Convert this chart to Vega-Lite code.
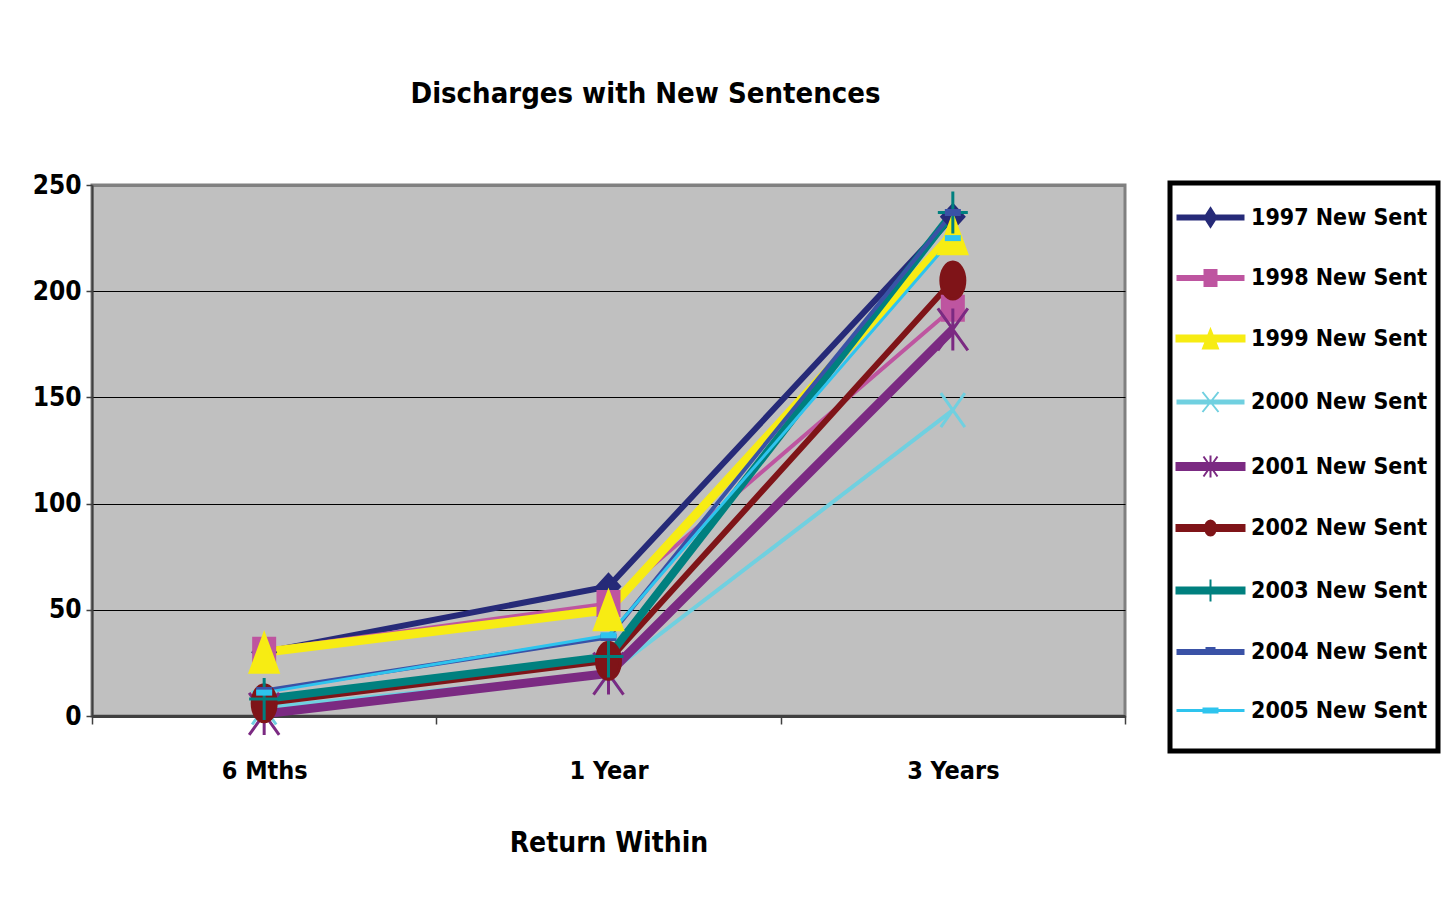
{
  "$schema": "https://vega.github.io/schema/vega-lite/v6.json",
  "width": 1033,
  "height": 531,
  "padding": {"left": 32, "top": 80, "right": 20, "bottom": 30},
  "background": "white",
  "title": {
    "text": "Discharges with New Sentences",
    "font": "DejaVu Sans Condensed",
    "fontSize": 29,
    "fontWeight": "bold",
    "color": "black",
    "anchor": "middle",
    "dx": 37,
    "offset": 63
  },
  "data": {
    "values": [
      {"series": "1997 New Sent", "period": "6 Mths", "value": 30},
      {"series": "1997 New Sent", "period": "1 Year", "value": 61},
      {"series": "1997 New Sent", "period": "3 Years", "value": 235},
      {"series": "1998 New Sent", "period": "6 Mths", "value": 31},
      {"series": "1998 New Sent", "period": "1 Year", "value": 53},
      {"series": "1998 New Sent", "period": "3 Years", "value": 192},
      {"series": "1999 New Sent", "period": "6 Mths", "value": 30},
      {"series": "1999 New Sent", "period": "1 Year", "value": 50},
      {"series": "1999 New Sent", "period": "3 Years", "value": 227},
      {"series": "2000 New Sent", "period": "6 Mths", "value": 4},
      {"series": "2000 New Sent", "period": "1 Year", "value": 20},
      {"series": "2000 New Sent", "period": "3 Years", "value": 144},
      {"series": "2001 New Sent", "period": "6 Mths", "value": 1},
      {"series": "2001 New Sent", "period": "1 Year", "value": 20},
      {"series": "2001 New Sent", "period": "3 Years", "value": 182},
      {"series": "2002 New Sent", "period": "6 Mths", "value": 6},
      {"series": "2002 New Sent", "period": "1 Year", "value": 26},
      {"series": "2002 New Sent", "period": "3 Years", "value": 205},
      {"series": "2003 New Sent", "period": "6 Mths", "value": 8},
      {"series": "2003 New Sent", "period": "1 Year", "value": 28},
      {"series": "2003 New Sent", "period": "3 Years", "value": 237},
      {"series": "2004 New Sent", "period": "6 Mths", "value": 12},
      {"series": "2004 New Sent", "period": "1 Year", "value": 37},
      {"series": "2004 New Sent", "period": "3 Years", "value": 237},
      {"series": "2005 New Sent", "period": "6 Mths", "value": 11},
      {"series": "2005 New Sent", "period": "1 Year", "value": 38},
      {"series": "2005 New Sent", "period": "3 Years", "value": 225}
    ]
  },
  "encoding": {
    "x": {
      "field": "period",
      "type": "nominal",
      "sort": ["6 Mths", "1 Year", "3 Years"],
      "bandPosition": 0.5,
      "scale": {"type": "band", "paddingInner": 0, "paddingOuter": 0},
      "title": "Return Within",
      "axis": {
        "labelAngle": 0,
        "labelFont": "DejaVu Sans Condensed",
        "labelFontSize": 25,
        "labelFontWeight": "bold",
        "labelColor": "black",
        "labelPadding": 34,
        "tickBand": "extent",
        "tickSize": 8,
        "tickWidth": 1.5,
        "tickColor": "#404040",
        "domainColor": "#404040",
        "domainWidth": 3,
        "grid": false,
        "titleFont": "DejaVu Sans Condensed",
        "titleFontSize": 28,
        "titleFontWeight": "bold",
        "titleColor": "black",
        "titlePadding": 46
      }
    },
    "y": {
      "field": "value",
      "type": "quantitative",
      "scale": {"domain": [0, 250], "nice": false},
      "title": null,
      "axis": {
        "values": [0, 50, 100, 150, 200, 250],
        "grid": true,
        "gridColor": {"condition": {"test": "datum.value === 250", "value": "#808080"}, "value": "black"},
        "gridWidth": {"condition": {"test": "datum.value === 250", "value": 3}, "value": 1},
        "labelFont": "DejaVu Sans Condensed",
        "labelFontSize": 26,
        "labelFontWeight": "bold",
        "labelColor": "black",
        "labelPadding": 5,
        "tickSize": 6,
        "tickWidth": 1.5,
        "tickColor": "#404040",
        "domainColor": "#404040",
        "domainWidth": 2,
        "minExtent": 60,
        "maxExtent": 60
      }
    }
  },
  "layer": [
    {
      "mark": {"type": "line"},
      "encoding": {
        "color": {
          "field": "series",
          "type": "nominal",
          "scale": {
            "domain": ["1997 New Sent", "1998 New Sent", "1999 New Sent", "2000 New Sent", "2001 New Sent", "2002 New Sent", "2003 New Sent", "2004 New Sent", "2005 New Sent"],
            "range": ["#262A78", "#BE55A0", "#F7EC13", "#70D0E0", "#7B2A82", "#7F1418", "#00807F", "#3A52A6", "#2EC4EE"]
          },
          "legend": null
        },
        "strokeWidth": {
          "field": "series",
          "type": "ordinal",
          "scale": {
            "type": "ordinal",
            "domain": ["1997 New Sent", "1998 New Sent", "1999 New Sent", "2000 New Sent", "2001 New Sent", "2002 New Sent", "2003 New Sent", "2004 New Sent", "2005 New Sent"],
            "range": [6, 4, 9, 4, 9, 6, 8, 4, 3]
          },
          "legend": null
        }
      }
    },
    {
      "mark": {"type": "point", "filled": true, "opacity": 1, "size": 4, "strokeWidth": 3},
      "encoding": {
        "fill": {
          "field": "series",
          "type": "nominal",
          "scale": {
            "domain": ["1997 New Sent", "1998 New Sent", "1999 New Sent", "2000 New Sent", "2001 New Sent", "2002 New Sent", "2003 New Sent", "2004 New Sent", "2005 New Sent"],
            "range": ["#262A78", "#BE55A0", "#F7EC13", "#70D0E0", "#7B2A82", "#7F1418", "#00807F", "#3A52A6", "#2EC4EE"]
          },
          "legend": null
        },
        "stroke": {
          "field": "series",
          "type": "nominal",
          "scale": {
            "domain": ["1997 New Sent", "1998 New Sent", "1999 New Sent", "2000 New Sent", "2001 New Sent", "2002 New Sent", "2003 New Sent", "2004 New Sent", "2005 New Sent"],
            "range": ["#262A78", "#BE55A0", "#F7EC13", "#70D0E0", "#7B2A82", "#7F1418", "#00807F", "#3A52A6", "#2EC4EE"]
          },
          "legend": null
        },
        "shape": {
          "field": "series",
          "type": "nominal",
          "scale": {
            "domain": ["1997 New Sent", "1998 New Sent", "1999 New Sent", "2000 New Sent", "2001 New Sent", "2002 New Sent", "2003 New Sent", "2004 New Sent", "2005 New Sent"],
            "range": [
              "M0,-12L11,0L0,12L-11,0Z",
              "M-10.5,-12H10.5V12H-10.5Z",
              "M0,-18L14,20H-14Z",
              "M-12,-17L12,17M12,-17L-12,17",
              "M-15,-21L15,21M15,-21L-15,21M0,-21V21",
              "M-12,0A12,18.5 0 1,1 12,0A12,18.5 0 1,1 -12,0Z",
              "M0,-21V21M-15,0H15",
              "M-6.5,-2H6.5V2H-6.5Z",
              "M-6.5,-1.5H6.5V1.5H-6.5Z"
            ]
          },
          "legend": null
        }
      }
    },
    {
      "mark": {"type": "point", "filled": true, "opacity": 0, "size": 4},
      "encoding": {
        "fill": {
          "field": "series",
          "type": "nominal",
          "scale": {
            "domain": ["1997 New Sent", "1998 New Sent", "1999 New Sent", "2000 New Sent", "2001 New Sent", "2002 New Sent", "2003 New Sent", "2004 New Sent", "2005 New Sent"],
            "range": ["#262A78", "#BE55A0", "#F7EC13", "#70D0E0", "#7B2A82", "#7F1418", "#00807F", "#3A52A6", "#2EC4EE"]
          },
          "legend": {
            "title": " ",
            "titleFontSize": 2,
            "titlePadding": 11,
            "orient": "none",
            "legendX": 1078,
            "legendY": -2,
            "strokeColor": "black",
            "fillColor": "white",
            "padding": 10,
            "labelFont": "DejaVu Sans Condensed",
            "labelFontSize": 23,
            "labelFontWeight": "bold",
            "labelColor": "black",
            "labelLimit": 400,
            "symbolSize": 4,
            "symbolStrokeWidth": 2,
            "symbolOpacity": 1,
            "symbolOffset": 19,
            "labelOffset": 29,
            "rowPadding": 34.5,
            "encode": {"legend": {"update": {"strokeWidth": {"value": 5}}}}
          }
        },
        "stroke": {
          "field": "series",
          "type": "nominal",
          "scale": {
            "domain": ["1997 New Sent", "1998 New Sent", "1999 New Sent", "2000 New Sent", "2001 New Sent", "2002 New Sent", "2003 New Sent", "2004 New Sent", "2005 New Sent"],
            "range": ["#262A78", "#BE55A0", "#F7EC13", "#70D0E0", "#7B2A82", "#7F1418", "#00807F", "#3A52A6", "#2EC4EE"]
          }
        },
        "shape": {
          "field": "series",
          "type": "nominal",
          "scale": {
            "domain": ["1997 New Sent", "1998 New Sent", "1999 New Sent", "2000 New Sent", "2001 New Sent", "2002 New Sent", "2003 New Sent", "2004 New Sent", "2005 New Sent"],
            "range": [
              "M-33,-2H33V2H-33ZM0,-9.5L6,0L0,9.5L-6,0Z",
              "M-33,-2H33V2H-33ZM-6,-8H6V8H-6Z",
              "M-34,-3H34V3H-34ZM0,-9L7.5,10H-7.5Z",
              "M-33,-1.5H33V1.5H-33ZM-8,-10L8,10M8,-10L-8,10",
              "M-34,-3.5H34V3.5H-34ZM-7,-10L7,10M7,-10L-7,10M0,-11V11",
              "M-34,-3H34V3H-34ZM-5.5,0A5.5,7.5 0 1,1 5.5,0A5.5,7.5 0 1,1 -5.5,0Z",
              "M-34,-3H34V3H-34ZM0,-11V11",
              "M-33,-2H33V2H-33ZM-4,-4H4V0H-4Z",
              "M-33,-0.5H33V0.5H-33ZM-7,-2H7V2H-7ZM0,26"
            ]
          }
        }
      }
    }
  ],
  "resolve": {"scale": {"color": "independent", "fill": "independent", "stroke": "independent", "shape": "independent", "strokeWidth": "independent"}},
  "config": {
    "view": {"fill": "#C0C0C0", "stroke": "#808080", "strokeWidth": 3},
    "font": "DejaVu Sans Condensed"
  }
}
